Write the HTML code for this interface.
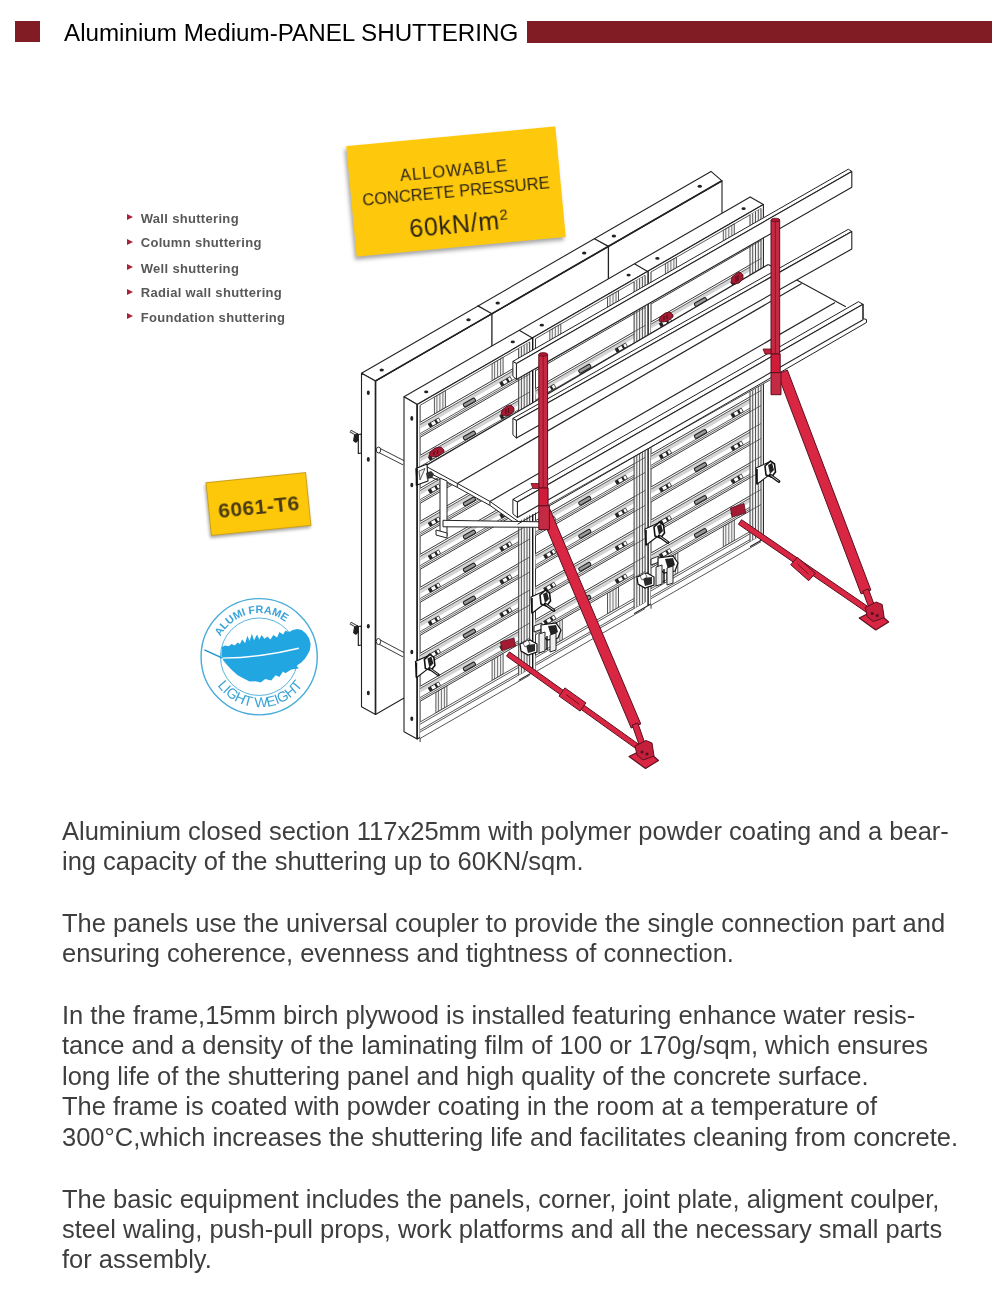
<!DOCTYPE html>
<html><head><meta charset="utf-8">
<style>
html,body{margin:0;padding:0;background:#fff;}
body{width:1007px;height:1289px;position:relative;overflow:hidden;font-family:"Liberation Sans",sans-serif;}
.abs{position:absolute;will-change:transform;}
#sq{left:15px;top:21px;width:25px;height:21px;background:#821c24;}
#bar{left:527px;top:21px;width:465px;height:21.5px;background:#821c24;}
#title{left:64px;top:18px;font-size:24.2px;line-height:30px;color:#000;white-space:nowrap;}
#list{left:126.5px;top:0;font-size:13px;letter-spacing:0.32px;font-weight:bold;color:#585858;}
#list div{position:absolute;left:13.7px;white-space:nowrap;}
#list span.tri{position:absolute;left:-13.7px;width:0;height:0;border-left:6.4px solid #a8223a;border-top:3.4px solid transparent;border-bottom:3.4px solid transparent;}
#body{left:62px;top:0;font-size:25.5px;color:#3e3e3e;white-space:nowrap;}
#body div{position:absolute;left:0;}

#ybox{left:350.55px;top:136.3px;width:210px;height:111px;background:#fec80c;transform:rotate(-5.4deg);box-shadow:-2px 3px 4px rgba(0,0,0,0.35);color:#2b2414;text-align:center;}
#ybox div{position:absolute;left:0;width:210px;white-space:nowrap;}
#badge{left:208.4px;top:477px;width:101.2px;height:54.4px;background:#fdc80a;transform:rotate(-5.8deg);box-shadow:-1px 2px 3px rgba(0,0,0,0.35);border:1px solid #c9a01a;box-sizing:border-box;color:#3f3418;font-weight:bold;text-align:center;}
</style></head><body>
<div class="abs" id="sq"></div>
<div class="abs" id="title">Aluminium Medium-PANEL SHUTTERING</div>
<div class="abs" id="bar"></div>

<svg class="abs" style="left:0;top:0" width="1007" height="800" viewBox="0 0 1007 800">
<polygon points="375.5,380.9 722,180.8 722,514.3 375.5,714.4" fill="#fff" stroke="#222" stroke-width="1.1" stroke-linejoin="round" />
<polygon points="361.5,373.2 711,171.4 722,180.8 375.5,380.9" fill="#fff" stroke="#222" stroke-width="1.1" stroke-linejoin="round" />
<polygon points="361.5,373.2 375.5,380.9 375.5,714.4 361.5,706.7" fill="#fff" stroke="#222" stroke-width="1.1" stroke-linejoin="round" />
<line x1="375.5" y1="380.9" x2="375.5" y2="714.4" stroke="#222" stroke-width="1.6" />
<line x1="375.5" y1="380.9" x2="722" y2="180.8" stroke="#222" stroke-width="1.6" />
<polyline points="478,305.9 491.9,313.7 491.9,433.7" fill="none" stroke="#222" stroke-width="1.3" stroke-linejoin="round" stroke-linecap="round" />
<polyline points="594.5,238.7 608.4,246.4 608.4,366.4" fill="none" stroke="#222" stroke-width="1.3" stroke-linejoin="round" stroke-linecap="round" />
<ellipse cx="381.7" cy="369.9" rx="2.2" ry="1.5" fill="#222" />
<ellipse cx="468.5" cy="319.8" rx="2.2" ry="1.5" fill="#222" />
<ellipse cx="497.7" cy="302.9" rx="2.2" ry="1.5" fill="#222" />
<ellipse cx="584.2" cy="253" rx="2.2" ry="1.5" fill="#222" />
<ellipse cx="613.9" cy="235.9" rx="2.2" ry="1.5" fill="#222" />
<ellipse cx="699.8" cy="186.3" rx="2.2" ry="1.5" fill="#222" />
<ellipse cx="368.3" cy="392.7" rx="1.5" ry="2.3" fill="#222" />
<ellipse cx="368.3" cy="459.4" rx="1.5" ry="2.3" fill="#222" />
<ellipse cx="368.3" cy="626.3" rx="1.5" ry="2.3" fill="#222" />
<ellipse cx="368.3" cy="693" rx="1.5" ry="2.3" fill="#222" />
<line x1="378.5" y1="450" x2="404" y2="463" stroke="#333" stroke-width="5.2" />
<line x1="378.5" y1="450" x2="404" y2="463" stroke="#fff" stroke-width="3.4" />
<ellipse cx="378.5" cy="450" rx="2.2" ry="3" fill="#fff" stroke="#333" stroke-width="1"/>
<line x1="378.5" y1="641.5" x2="404" y2="655" stroke="#333" stroke-width="5.2" />
<line x1="378.5" y1="641.5" x2="404" y2="655" stroke="#fff" stroke-width="3.4" />
<ellipse cx="378.5" cy="641.5" rx="2.2" ry="3" fill="#fff" stroke="#333" stroke-width="1"/>
<line x1="350.3" y1="431" x2="357.5" y2="435" stroke="#333" stroke-width="3" />
<line x1="350.8" y1="431.3" x2="357" y2="434.8" stroke="#eee" stroke-width="1.2" />
<polygon points="358.3,434.5 361.3,434 361.3,453 358.3,453.5" fill="#fff" stroke="#111" stroke-width="1.1" stroke-linejoin="round" />
<path d="M354,435 L358,433 L359,440 L356,443 L353,441 Z" fill="#1e1e1e"/>
<line x1="350.3" y1="623" x2="357.5" y2="627" stroke="#333" stroke-width="3" />
<line x1="350.8" y1="623.3" x2="357" y2="626.8" stroke="#eee" stroke-width="1.2" />
<polygon points="358.3,626.5 361.3,626 361.3,645 358.3,645.5" fill="#fff" stroke="#111" stroke-width="1.1" stroke-linejoin="round" />
<path d="M354,627 L358,625 L359,632 L356,635 L353,633 Z" fill="#1e1e1e"/>
<polygon points="404,396.8 750.2,196.9 763.4,204.6 417.2,404.5" fill="#fff" stroke="#222" stroke-width="1.1" stroke-linejoin="round" />
<polygon points="404,396.8 417.2,404.5 417.2,738.9 404,731.7" fill="#fff" stroke="#222" stroke-width="1.1" stroke-linejoin="round" />
<polygon points="417.2,404.5 763.4,204.6 763.4,539 417.2,738.9" fill="#fff" stroke="#222" stroke-width="1.1" stroke-linejoin="round" />
<line x1="417.2" y1="404.5" x2="417.2" y2="738.9" stroke="#222" stroke-width="1.5" />
<line x1="519.2" y1="330.3" x2="532.4" y2="338" stroke="#222" stroke-width="1.2" />
<line x1="634.4" y1="263.8" x2="647.6" y2="271.5" stroke="#222" stroke-width="1.2" />
<ellipse cx="426.2" cy="391.9" rx="2.1" ry="1.4" fill="#222" />
<ellipse cx="512.8" cy="341.9" rx="2.1" ry="1.4" fill="#222" />
<ellipse cx="541.8" cy="325.2" rx="2.1" ry="1.4" fill="#222" />
<ellipse cx="628.6" cy="275.1" rx="2.1" ry="1.4" fill="#222" />
<ellipse cx="657.4" cy="258.4" rx="2.1" ry="1.4" fill="#222" />
<ellipse cx="743.6" cy="208.7" rx="2.1" ry="1.4" fill="#222" />
<ellipse cx="411.8" cy="418.4" rx="1.5" ry="2.3" fill="#222" />
<ellipse cx="411.8" cy="485" rx="1.5" ry="2.3" fill="#222" />
<ellipse cx="411.8" cy="652" rx="1.5" ry="2.3" fill="#222" />
<ellipse cx="411.8" cy="718.7" rx="1.5" ry="2.3" fill="#222" />
<line x1="420.1" y1="405.3" x2="420.1" y2="742" stroke="#3a3a3a" stroke-width="1.0" />
<line x1="420.1" y1="405.3" x2="529.7" y2="342" stroke="#3a3a3a" stroke-width="0.85" />
<polygon points="434.4,397.1 445.4,390.7 445.4,407.7 434.4,414.1" fill="#f4f4f4" stroke="#3a3a3a" stroke-width="0.85" stroke-linejoin="round" />
<line x1="436.9" y1="395.6" x2="436.9" y2="412.6" stroke="#3a3a3a" stroke-width="0.7" />
<line x1="439.9" y1="393.9" x2="439.9" y2="410.9" stroke="#3a3a3a" stroke-width="0.7" />
<line x1="442.9" y1="392.2" x2="442.9" y2="409.2" stroke="#3a3a3a" stroke-width="0.7" />
<polygon points="492.1,363.8 503.1,357.4 503.1,374.4 492.1,380.8" fill="#f4f4f4" stroke="#3a3a3a" stroke-width="0.85" stroke-linejoin="round" />
<line x1="494.6" y1="362.3" x2="494.6" y2="379.3" stroke="#3a3a3a" stroke-width="0.7" />
<line x1="497.6" y1="360.6" x2="497.6" y2="377.6" stroke="#3a3a3a" stroke-width="0.7" />
<line x1="500.6" y1="358.9" x2="500.6" y2="375.9" stroke="#3a3a3a" stroke-width="0.7" />
<polygon points="435.9,692.2 446.9,685.9 446.9,706.6 435.9,712.9" fill="#f4f4f4" stroke="#3a3a3a" stroke-width="0.85" stroke-linejoin="round" />
<line x1="438.4" y1="690.8" x2="438.4" y2="711.5" stroke="#3a3a3a" stroke-width="0.7" />
<line x1="441.4" y1="689" x2="441.4" y2="709.7" stroke="#3a3a3a" stroke-width="0.7" />
<line x1="444.4" y1="687.3" x2="444.4" y2="708" stroke="#3a3a3a" stroke-width="0.7" />
<polygon points="492.1,659.8 503.1,653.4 503.1,674.1 492.1,680.5" fill="#f4f4f4" stroke="#3a3a3a" stroke-width="0.85" stroke-linejoin="round" />
<line x1="494.6" y1="658.3" x2="494.6" y2="679" stroke="#3a3a3a" stroke-width="0.7" />
<line x1="497.6" y1="656.6" x2="497.6" y2="677.3" stroke="#3a3a3a" stroke-width="0.7" />
<line x1="500.6" y1="654.9" x2="500.6" y2="675.6" stroke="#3a3a3a" stroke-width="0.7" />
<polygon points="420.1,422.3 518.7,365.4 518.7,380.4 420.1,437.3" fill="#fff" stroke="none" stroke-width="0" stroke-linejoin="round" />
<polygon points="420.1,424.5 518.7,367.6 518.7,371.8 420.1,428.7" fill="#d4d4d4" stroke="none" stroke-width="0" stroke-linejoin="round" />
<line x1="420.1" y1="422.3" x2="529.7" y2="359" stroke="#3a3a3a" stroke-width="1.0" />
<line x1="420.1" y1="424.5" x2="529.7" y2="361.2" stroke="#3a3a3a" stroke-width="0.8" />
<line x1="420.1" y1="433.6" x2="529.7" y2="370.3" stroke="#3a3a3a" stroke-width="0.8" />
<line x1="420.1" y1="435.5" x2="529.7" y2="372.2" stroke="#3a3a3a" stroke-width="0.8" />
<line x1="420.1" y1="437.3" x2="529.7" y2="374" stroke="#3a3a3a" stroke-width="1.0" />
<g transform="rotate(-30 434.4 422.7)"><rect x="428.4" y="420.7" width="12" height="4" fill="#fff" stroke="#333" stroke-width="0.8"/><rect x="428.4" y="420.7" width="3" height="4" fill="#222"/><rect x="435.4" y="420.7" width="2.2" height="4" fill="#222"/></g>
<rect x="462.9" y="400.7" width="13" height="3.6" rx="1.2" fill="#9a9a9a" stroke="#222" stroke-width="1.1" transform="rotate(-30 469.4 402.5)"/>
<g transform="rotate(-30 505.9 381.4)"><rect x="499.9" y="379.4" width="12" height="4" fill="#fff" stroke="#333" stroke-width="0.8"/><rect x="499.9" y="379.4" width="3" height="4" fill="#222"/><rect x="506.9" y="379.4" width="2.2" height="4" fill="#222"/></g>
<polygon points="420.1,455.3 518.7,398.4 518.7,413.4 420.1,470.3" fill="#fff" stroke="none" stroke-width="0" stroke-linejoin="round" />
<polygon points="420.1,457.5 518.7,400.6 518.7,404.8 420.1,461.7" fill="#d4d4d4" stroke="none" stroke-width="0" stroke-linejoin="round" />
<line x1="420.1" y1="455.3" x2="529.7" y2="392" stroke="#3a3a3a" stroke-width="1.0" />
<line x1="420.1" y1="457.5" x2="529.7" y2="394.2" stroke="#3a3a3a" stroke-width="0.8" />
<line x1="420.1" y1="466.6" x2="529.7" y2="403.3" stroke="#3a3a3a" stroke-width="0.8" />
<line x1="420.1" y1="468.5" x2="529.7" y2="405.2" stroke="#3a3a3a" stroke-width="0.8" />
<line x1="420.1" y1="470.3" x2="529.7" y2="407" stroke="#3a3a3a" stroke-width="1.0" />
<g transform="rotate(-30 434.4 455.7)"><rect x="428.4" y="453.7" width="12" height="4" fill="#fff" stroke="#333" stroke-width="0.8"/><rect x="428.4" y="453.7" width="3" height="4" fill="#222"/><rect x="435.4" y="453.7" width="2.2" height="4" fill="#222"/></g>
<rect x="462.9" y="433.7" width="13" height="3.6" rx="1.2" fill="#9a9a9a" stroke="#222" stroke-width="1.1" transform="rotate(-30 469.4 435.5)"/>
<g transform="rotate(-30 505.9 414.4)"><rect x="499.9" y="412.4" width="12" height="4" fill="#fff" stroke="#333" stroke-width="0.8"/><rect x="499.9" y="412.4" width="3" height="4" fill="#222"/><rect x="506.9" y="412.4" width="2.2" height="4" fill="#222"/></g>
<polygon points="420.1,488.3 518.7,431.4 518.7,446.4 420.1,503.3" fill="#fff" stroke="none" stroke-width="0" stroke-linejoin="round" />
<polygon points="420.1,490.5 518.7,433.6 518.7,437.8 420.1,494.7" fill="#d4d4d4" stroke="none" stroke-width="0" stroke-linejoin="round" />
<line x1="420.1" y1="488.3" x2="529.7" y2="425" stroke="#3a3a3a" stroke-width="1.0" />
<line x1="420.1" y1="490.5" x2="529.7" y2="427.2" stroke="#3a3a3a" stroke-width="0.8" />
<line x1="420.1" y1="499.6" x2="529.7" y2="436.3" stroke="#3a3a3a" stroke-width="0.8" />
<line x1="420.1" y1="501.5" x2="529.7" y2="438.2" stroke="#3a3a3a" stroke-width="0.8" />
<line x1="420.1" y1="503.3" x2="529.7" y2="440" stroke="#3a3a3a" stroke-width="1.0" />
<g transform="rotate(-30 434.4 488.7)"><rect x="428.4" y="486.7" width="12" height="4" fill="#fff" stroke="#333" stroke-width="0.8"/><rect x="428.4" y="486.7" width="3" height="4" fill="#222"/><rect x="435.4" y="486.7" width="2.2" height="4" fill="#222"/></g>
<rect x="462.9" y="466.7" width="13" height="3.6" rx="1.2" fill="#9a9a9a" stroke="#222" stroke-width="1.1" transform="rotate(-30 469.4 468.5)"/>
<g transform="rotate(-30 505.9 447.4)"><rect x="499.9" y="445.4" width="12" height="4" fill="#fff" stroke="#333" stroke-width="0.8"/><rect x="499.9" y="445.4" width="3" height="4" fill="#222"/><rect x="506.9" y="445.4" width="2.2" height="4" fill="#222"/></g>
<polygon points="420.1,521.3 518.7,464.4 518.7,479.4 420.1,536.3" fill="#fff" stroke="none" stroke-width="0" stroke-linejoin="round" />
<polygon points="420.1,523.5 518.7,466.6 518.7,470.8 420.1,527.7" fill="#d4d4d4" stroke="none" stroke-width="0" stroke-linejoin="round" />
<line x1="420.1" y1="521.3" x2="529.7" y2="458" stroke="#3a3a3a" stroke-width="1.0" />
<line x1="420.1" y1="523.5" x2="529.7" y2="460.2" stroke="#3a3a3a" stroke-width="0.8" />
<line x1="420.1" y1="532.6" x2="529.7" y2="469.3" stroke="#3a3a3a" stroke-width="0.8" />
<line x1="420.1" y1="534.5" x2="529.7" y2="471.2" stroke="#3a3a3a" stroke-width="0.8" />
<line x1="420.1" y1="536.3" x2="529.7" y2="473" stroke="#3a3a3a" stroke-width="1.0" />
<g transform="rotate(-30 434.4 521.7)"><rect x="428.4" y="519.7" width="12" height="4" fill="#fff" stroke="#333" stroke-width="0.8"/><rect x="428.4" y="519.7" width="3" height="4" fill="#222"/><rect x="435.4" y="519.7" width="2.2" height="4" fill="#222"/></g>
<rect x="462.9" y="499.7" width="13" height="3.6" rx="1.2" fill="#9a9a9a" stroke="#222" stroke-width="1.1" transform="rotate(-30 469.4 501.5)"/>
<g transform="rotate(-30 505.9 480.4)"><rect x="499.9" y="478.4" width="12" height="4" fill="#fff" stroke="#333" stroke-width="0.8"/><rect x="499.9" y="478.4" width="3" height="4" fill="#222"/><rect x="506.9" y="478.4" width="2.2" height="4" fill="#222"/></g>
<polygon points="420.1,554.3 518.7,497.4 518.7,512.4 420.1,569.3" fill="#fff" stroke="none" stroke-width="0" stroke-linejoin="round" />
<polygon points="420.1,556.5 518.7,499.6 518.7,503.8 420.1,560.7" fill="#d4d4d4" stroke="none" stroke-width="0" stroke-linejoin="round" />
<line x1="420.1" y1="554.3" x2="529.7" y2="491" stroke="#3a3a3a" stroke-width="1.0" />
<line x1="420.1" y1="556.5" x2="529.7" y2="493.2" stroke="#3a3a3a" stroke-width="0.8" />
<line x1="420.1" y1="565.6" x2="529.7" y2="502.3" stroke="#3a3a3a" stroke-width="0.8" />
<line x1="420.1" y1="567.5" x2="529.7" y2="504.2" stroke="#3a3a3a" stroke-width="0.8" />
<line x1="420.1" y1="569.3" x2="529.7" y2="506" stroke="#3a3a3a" stroke-width="1.0" />
<g transform="rotate(-30 434.4 554.7)"><rect x="428.4" y="552.7" width="12" height="4" fill="#fff" stroke="#333" stroke-width="0.8"/><rect x="428.4" y="552.7" width="3" height="4" fill="#222"/><rect x="435.4" y="552.7" width="2.2" height="4" fill="#222"/></g>
<rect x="462.9" y="532.7" width="13" height="3.6" rx="1.2" fill="#9a9a9a" stroke="#222" stroke-width="1.1" transform="rotate(-30 469.4 534.5)"/>
<g transform="rotate(-30 505.9 513.4)"><rect x="499.9" y="511.4" width="12" height="4" fill="#fff" stroke="#333" stroke-width="0.8"/><rect x="499.9" y="511.4" width="3" height="4" fill="#222"/><rect x="506.9" y="511.4" width="2.2" height="4" fill="#222"/></g>
<polygon points="420.1,587.3 518.7,530.4 518.7,545.4 420.1,602.3" fill="#fff" stroke="none" stroke-width="0" stroke-linejoin="round" />
<polygon points="420.1,589.5 518.7,532.6 518.7,536.8 420.1,593.7" fill="#d4d4d4" stroke="none" stroke-width="0" stroke-linejoin="round" />
<line x1="420.1" y1="587.3" x2="529.7" y2="524" stroke="#3a3a3a" stroke-width="1.0" />
<line x1="420.1" y1="589.5" x2="529.7" y2="526.2" stroke="#3a3a3a" stroke-width="0.8" />
<line x1="420.1" y1="598.6" x2="529.7" y2="535.3" stroke="#3a3a3a" stroke-width="0.8" />
<line x1="420.1" y1="600.5" x2="529.7" y2="537.2" stroke="#3a3a3a" stroke-width="0.8" />
<line x1="420.1" y1="602.3" x2="529.7" y2="539" stroke="#3a3a3a" stroke-width="1.0" />
<g transform="rotate(-30 434.4 587.7)"><rect x="428.4" y="585.7" width="12" height="4" fill="#fff" stroke="#333" stroke-width="0.8"/><rect x="428.4" y="585.7" width="3" height="4" fill="#222"/><rect x="435.4" y="585.7" width="2.2" height="4" fill="#222"/></g>
<rect x="462.9" y="565.7" width="13" height="3.6" rx="1.2" fill="#9a9a9a" stroke="#222" stroke-width="1.1" transform="rotate(-30 469.4 567.5)"/>
<g transform="rotate(-30 505.9 546.4)"><rect x="499.9" y="544.4" width="12" height="4" fill="#fff" stroke="#333" stroke-width="0.8"/><rect x="499.9" y="544.4" width="3" height="4" fill="#222"/><rect x="506.9" y="544.4" width="2.2" height="4" fill="#222"/></g>
<polygon points="420.1,620.3 518.7,563.4 518.7,578.4 420.1,635.3" fill="#fff" stroke="none" stroke-width="0" stroke-linejoin="round" />
<polygon points="420.1,622.5 518.7,565.6 518.7,569.8 420.1,626.7" fill="#d4d4d4" stroke="none" stroke-width="0" stroke-linejoin="round" />
<line x1="420.1" y1="620.3" x2="529.7" y2="557" stroke="#3a3a3a" stroke-width="1.0" />
<line x1="420.1" y1="622.5" x2="529.7" y2="559.2" stroke="#3a3a3a" stroke-width="0.8" />
<line x1="420.1" y1="631.6" x2="529.7" y2="568.3" stroke="#3a3a3a" stroke-width="0.8" />
<line x1="420.1" y1="633.5" x2="529.7" y2="570.2" stroke="#3a3a3a" stroke-width="0.8" />
<line x1="420.1" y1="635.3" x2="529.7" y2="572" stroke="#3a3a3a" stroke-width="1.0" />
<g transform="rotate(-30 434.4 620.7)"><rect x="428.4" y="618.7" width="12" height="4" fill="#fff" stroke="#333" stroke-width="0.8"/><rect x="428.4" y="618.7" width="3" height="4" fill="#222"/><rect x="435.4" y="618.7" width="2.2" height="4" fill="#222"/></g>
<rect x="462.9" y="598.7" width="13" height="3.6" rx="1.2" fill="#9a9a9a" stroke="#222" stroke-width="1.1" transform="rotate(-30 469.4 600.5)"/>
<g transform="rotate(-30 505.9 579.4)"><rect x="499.9" y="577.4" width="12" height="4" fill="#fff" stroke="#333" stroke-width="0.8"/><rect x="499.9" y="577.4" width="3" height="4" fill="#222"/><rect x="506.9" y="577.4" width="2.2" height="4" fill="#222"/></g>
<polygon points="420.1,653.3 518.7,596.4 518.7,611.4 420.1,668.3" fill="#fff" stroke="none" stroke-width="0" stroke-linejoin="round" />
<polygon points="420.1,655.5 518.7,598.6 518.7,602.8 420.1,659.7" fill="#d4d4d4" stroke="none" stroke-width="0" stroke-linejoin="round" />
<line x1="420.1" y1="653.3" x2="529.7" y2="590" stroke="#3a3a3a" stroke-width="1.0" />
<line x1="420.1" y1="655.5" x2="529.7" y2="592.2" stroke="#3a3a3a" stroke-width="0.8" />
<line x1="420.1" y1="664.6" x2="529.7" y2="601.3" stroke="#3a3a3a" stroke-width="0.8" />
<line x1="420.1" y1="666.5" x2="529.7" y2="603.2" stroke="#3a3a3a" stroke-width="0.8" />
<line x1="420.1" y1="668.3" x2="529.7" y2="605" stroke="#3a3a3a" stroke-width="1.0" />
<g transform="rotate(-30 434.4 653.7)"><rect x="428.4" y="651.7" width="12" height="4" fill="#fff" stroke="#333" stroke-width="0.8"/><rect x="428.4" y="651.7" width="3" height="4" fill="#222"/><rect x="435.4" y="651.7" width="2.2" height="4" fill="#222"/></g>
<rect x="462.9" y="631.7" width="13" height="3.6" rx="1.2" fill="#9a9a9a" stroke="#222" stroke-width="1.1" transform="rotate(-30 469.4 633.5)"/>
<g transform="rotate(-30 505.9 612.4)"><rect x="499.9" y="610.4" width="12" height="4" fill="#fff" stroke="#333" stroke-width="0.8"/><rect x="499.9" y="610.4" width="3" height="4" fill="#222"/><rect x="506.9" y="610.4" width="2.2" height="4" fill="#222"/></g>
<polygon points="420.1,686.3 518.7,629.4 518.7,644.4 420.1,701.3" fill="#fff" stroke="none" stroke-width="0" stroke-linejoin="round" />
<polygon points="420.1,688.5 518.7,631.6 518.7,635.8 420.1,692.7" fill="#d4d4d4" stroke="none" stroke-width="0" stroke-linejoin="round" />
<line x1="420.1" y1="686.3" x2="529.7" y2="623" stroke="#3a3a3a" stroke-width="1.0" />
<line x1="420.1" y1="688.5" x2="529.7" y2="625.2" stroke="#3a3a3a" stroke-width="0.8" />
<line x1="420.1" y1="697.6" x2="529.7" y2="634.3" stroke="#3a3a3a" stroke-width="0.8" />
<line x1="420.1" y1="699.5" x2="529.7" y2="636.2" stroke="#3a3a3a" stroke-width="0.8" />
<line x1="420.1" y1="701.3" x2="529.7" y2="638" stroke="#3a3a3a" stroke-width="1.0" />
<g transform="rotate(-30 434.4 686.7)"><rect x="428.4" y="684.7" width="12" height="4" fill="#fff" stroke="#333" stroke-width="0.8"/><rect x="428.4" y="684.7" width="3" height="4" fill="#222"/><rect x="435.4" y="684.7" width="2.2" height="4" fill="#222"/></g>
<rect x="462.9" y="664.7" width="13" height="3.6" rx="1.2" fill="#9a9a9a" stroke="#222" stroke-width="1.1" transform="rotate(-30 469.4 666.5)"/>
<g transform="rotate(-30 505.9 645.4)"><rect x="499.9" y="643.4" width="12" height="4" fill="#fff" stroke="#333" stroke-width="0.8"/><rect x="499.9" y="643.4" width="3" height="4" fill="#222"/><rect x="506.9" y="643.4" width="2.2" height="4" fill="#222"/></g>
<polygon points="420.1,722 518.7,665.1 518.7,681.6 420.1,738.5" fill="#fff" stroke="none" stroke-width="0" stroke-linejoin="round" />
<line x1="420.1" y1="722" x2="529.7" y2="658.7" stroke="#3a3a3a" stroke-width="0.85" />
<line x1="420.1" y1="724.2" x2="529.7" y2="660.9" stroke="#3a3a3a" stroke-width="0.85" />
<line x1="420.1" y1="730" x2="529.7" y2="666.7" stroke="#3a3a3a" stroke-width="0.85" />
<line x1="420.1" y1="732" x2="529.7" y2="668.7" stroke="#3a3a3a" stroke-width="0.85" />
<line x1="420.1" y1="738.5" x2="529.7" y2="675.2" stroke="#3a3a3a" stroke-width="0.85" />
<polygon points="518.7,348.4 529.7,342 529.7,668.7 518.7,675.1" fill="#f2f2f2" stroke="none" stroke-width="0" stroke-linejoin="round" />
<line x1="518.7" y1="348.4" x2="518.7" y2="675.1" stroke="#3a3a3a" stroke-width="1.0" />
<line x1="521.4" y1="346.8" x2="521.4" y2="673.5" stroke="#3a3a3a" stroke-width="0.85" />
<line x1="524.2" y1="345.2" x2="524.2" y2="671.9" stroke="#3a3a3a" stroke-width="0.85" />
<line x1="527" y1="343.6" x2="527" y2="670.3" stroke="#3a3a3a" stroke-width="0.85" />
<line x1="529.7" y1="342" x2="529.7" y2="668.7" stroke="#3a3a3a" stroke-width="1.0" />
<line x1="518.7" y1="365.4" x2="529.7" y2="359" stroke="#3a3a3a" stroke-width="0.7" />
<line x1="518.7" y1="380.4" x2="529.7" y2="374" stroke="#3a3a3a" stroke-width="0.7" />
<line x1="518.7" y1="398.4" x2="529.7" y2="392" stroke="#3a3a3a" stroke-width="0.7" />
<line x1="518.7" y1="413.4" x2="529.7" y2="407" stroke="#3a3a3a" stroke-width="0.7" />
<line x1="518.7" y1="431.4" x2="529.7" y2="425" stroke="#3a3a3a" stroke-width="0.7" />
<line x1="518.7" y1="446.4" x2="529.7" y2="440" stroke="#3a3a3a" stroke-width="0.7" />
<line x1="518.7" y1="464.4" x2="529.7" y2="458" stroke="#3a3a3a" stroke-width="0.7" />
<line x1="518.7" y1="479.4" x2="529.7" y2="473" stroke="#3a3a3a" stroke-width="0.7" />
<line x1="518.7" y1="497.4" x2="529.7" y2="491" stroke="#3a3a3a" stroke-width="0.7" />
<line x1="518.7" y1="512.4" x2="529.7" y2="506" stroke="#3a3a3a" stroke-width="0.7" />
<line x1="518.7" y1="530.4" x2="529.7" y2="524" stroke="#3a3a3a" stroke-width="0.7" />
<line x1="518.7" y1="545.4" x2="529.7" y2="539" stroke="#3a3a3a" stroke-width="0.7" />
<line x1="518.7" y1="563.4" x2="529.7" y2="557" stroke="#3a3a3a" stroke-width="0.7" />
<line x1="518.7" y1="578.4" x2="529.7" y2="572" stroke="#3a3a3a" stroke-width="0.7" />
<line x1="518.7" y1="596.4" x2="529.7" y2="590" stroke="#3a3a3a" stroke-width="0.7" />
<line x1="518.7" y1="611.4" x2="529.7" y2="605" stroke="#3a3a3a" stroke-width="0.7" />
<line x1="518.7" y1="629.4" x2="529.7" y2="623" stroke="#3a3a3a" stroke-width="0.7" />
<line x1="518.7" y1="644.4" x2="529.7" y2="638" stroke="#3a3a3a" stroke-width="0.7" />
<line x1="532.7" y1="337.8" x2="532.7" y2="672.2" stroke="#111" stroke-width="1.4" />
<line x1="535.5" y1="338.7" x2="535.5" y2="675.4" stroke="#3a3a3a" stroke-width="1.0" />
<line x1="535.5" y1="338.7" x2="645.1" y2="275.4" stroke="#3a3a3a" stroke-width="0.85" />
<polygon points="549.8,330.4 560.8,324.1 560.8,341.1 549.8,347.4" fill="#f4f4f4" stroke="#3a3a3a" stroke-width="0.85" stroke-linejoin="round" />
<line x1="552.3" y1="329" x2="552.3" y2="346" stroke="#3a3a3a" stroke-width="0.7" />
<line x1="555.3" y1="327.3" x2="555.3" y2="344.3" stroke="#3a3a3a" stroke-width="0.7" />
<line x1="558.3" y1="325.5" x2="558.3" y2="342.5" stroke="#3a3a3a" stroke-width="0.7" />
<polygon points="607.5,297.1 618.5,290.8 618.5,307.8 607.5,314.1" fill="#f4f4f4" stroke="#3a3a3a" stroke-width="0.85" stroke-linejoin="round" />
<line x1="610" y1="295.7" x2="610" y2="312.7" stroke="#3a3a3a" stroke-width="0.7" />
<line x1="613" y1="294" x2="613" y2="311" stroke="#3a3a3a" stroke-width="0.7" />
<line x1="616" y1="292.2" x2="616" y2="309.2" stroke="#3a3a3a" stroke-width="0.7" />
<polygon points="551.3,625.6 562.3,619.2 562.3,639.9 551.3,646.3" fill="#f4f4f4" stroke="#3a3a3a" stroke-width="0.85" stroke-linejoin="round" />
<line x1="553.8" y1="624.1" x2="553.8" y2="644.8" stroke="#3a3a3a" stroke-width="0.7" />
<line x1="556.8" y1="622.4" x2="556.8" y2="643.1" stroke="#3a3a3a" stroke-width="0.7" />
<line x1="559.8" y1="620.7" x2="559.8" y2="641.4" stroke="#3a3a3a" stroke-width="0.7" />
<polygon points="607.5,593.1 618.5,586.8 618.5,607.5 607.5,613.8" fill="#f4f4f4" stroke="#3a3a3a" stroke-width="0.85" stroke-linejoin="round" />
<line x1="610" y1="591.7" x2="610" y2="612.4" stroke="#3a3a3a" stroke-width="0.7" />
<line x1="613" y1="590" x2="613" y2="610.7" stroke="#3a3a3a" stroke-width="0.7" />
<line x1="616" y1="588.2" x2="616" y2="608.9" stroke="#3a3a3a" stroke-width="0.7" />
<polygon points="535.5,355.7 634.1,298.8 634.1,313.8 535.5,370.7" fill="#fff" stroke="none" stroke-width="0" stroke-linejoin="round" />
<polygon points="535.5,357.9 634.1,301 634.1,305.2 535.5,362.1" fill="#d4d4d4" stroke="none" stroke-width="0" stroke-linejoin="round" />
<line x1="535.5" y1="355.7" x2="645.1" y2="292.4" stroke="#3a3a3a" stroke-width="1.0" />
<line x1="535.5" y1="357.9" x2="645.1" y2="294.6" stroke="#3a3a3a" stroke-width="0.8" />
<line x1="535.5" y1="367" x2="645.1" y2="303.7" stroke="#3a3a3a" stroke-width="0.8" />
<line x1="535.5" y1="368.9" x2="645.1" y2="305.6" stroke="#3a3a3a" stroke-width="0.8" />
<line x1="535.5" y1="370.7" x2="645.1" y2="307.4" stroke="#3a3a3a" stroke-width="1.0" />
<g transform="rotate(-30 549.8 356)"><rect x="543.8" y="354" width="12" height="4" fill="#fff" stroke="#333" stroke-width="0.8"/><rect x="543.8" y="354" width="3" height="4" fill="#222"/><rect x="550.8" y="354" width="2.2" height="4" fill="#222"/></g>
<rect x="578.3" y="334" width="13" height="3.6" rx="1.2" fill="#9a9a9a" stroke="#222" stroke-width="1.1" transform="rotate(-30 584.8 335.8)"/>
<g transform="rotate(-30 621.3 314.8)"><rect x="615.3" y="312.8" width="12" height="4" fill="#fff" stroke="#333" stroke-width="0.8"/><rect x="615.3" y="312.8" width="3" height="4" fill="#222"/><rect x="622.3" y="312.8" width="2.2" height="4" fill="#222"/></g>
<polygon points="535.5,388.7 634.1,331.8 634.1,346.8 535.5,403.7" fill="#fff" stroke="none" stroke-width="0" stroke-linejoin="round" />
<polygon points="535.5,390.9 634.1,334 634.1,338.2 535.5,395.1" fill="#d4d4d4" stroke="none" stroke-width="0" stroke-linejoin="round" />
<line x1="535.5" y1="388.7" x2="645.1" y2="325.4" stroke="#3a3a3a" stroke-width="1.0" />
<line x1="535.5" y1="390.9" x2="645.1" y2="327.6" stroke="#3a3a3a" stroke-width="0.8" />
<line x1="535.5" y1="400" x2="645.1" y2="336.7" stroke="#3a3a3a" stroke-width="0.8" />
<line x1="535.5" y1="401.9" x2="645.1" y2="338.6" stroke="#3a3a3a" stroke-width="0.8" />
<line x1="535.5" y1="403.7" x2="645.1" y2="340.4" stroke="#3a3a3a" stroke-width="1.0" />
<g transform="rotate(-30 549.8 389)"><rect x="543.8" y="387" width="12" height="4" fill="#fff" stroke="#333" stroke-width="0.8"/><rect x="543.8" y="387" width="3" height="4" fill="#222"/><rect x="550.8" y="387" width="2.2" height="4" fill="#222"/></g>
<rect x="578.3" y="367" width="13" height="3.6" rx="1.2" fill="#9a9a9a" stroke="#222" stroke-width="1.1" transform="rotate(-30 584.8 368.8)"/>
<g transform="rotate(-30 621.3 347.8)"><rect x="615.3" y="345.8" width="12" height="4" fill="#fff" stroke="#333" stroke-width="0.8"/><rect x="615.3" y="345.8" width="3" height="4" fill="#222"/><rect x="622.3" y="345.8" width="2.2" height="4" fill="#222"/></g>
<polygon points="535.5,421.7 634.1,364.8 634.1,379.8 535.5,436.7" fill="#fff" stroke="none" stroke-width="0" stroke-linejoin="round" />
<polygon points="535.5,423.9 634.1,367 634.1,371.2 535.5,428.1" fill="#d4d4d4" stroke="none" stroke-width="0" stroke-linejoin="round" />
<line x1="535.5" y1="421.7" x2="645.1" y2="358.4" stroke="#3a3a3a" stroke-width="1.0" />
<line x1="535.5" y1="423.9" x2="645.1" y2="360.6" stroke="#3a3a3a" stroke-width="0.8" />
<line x1="535.5" y1="433" x2="645.1" y2="369.7" stroke="#3a3a3a" stroke-width="0.8" />
<line x1="535.5" y1="434.9" x2="645.1" y2="371.6" stroke="#3a3a3a" stroke-width="0.8" />
<line x1="535.5" y1="436.7" x2="645.1" y2="373.4" stroke="#3a3a3a" stroke-width="1.0" />
<g transform="rotate(-30 549.8 422)"><rect x="543.8" y="420" width="12" height="4" fill="#fff" stroke="#333" stroke-width="0.8"/><rect x="543.8" y="420" width="3" height="4" fill="#222"/><rect x="550.8" y="420" width="2.2" height="4" fill="#222"/></g>
<rect x="578.3" y="400" width="13" height="3.6" rx="1.2" fill="#9a9a9a" stroke="#222" stroke-width="1.1" transform="rotate(-30 584.8 401.8)"/>
<g transform="rotate(-30 621.3 380.8)"><rect x="615.3" y="378.8" width="12" height="4" fill="#fff" stroke="#333" stroke-width="0.8"/><rect x="615.3" y="378.8" width="3" height="4" fill="#222"/><rect x="622.3" y="378.8" width="2.2" height="4" fill="#222"/></g>
<polygon points="535.5,454.7 634.1,397.8 634.1,412.8 535.5,469.7" fill="#fff" stroke="none" stroke-width="0" stroke-linejoin="round" />
<polygon points="535.5,456.9 634.1,400 634.1,404.2 535.5,461.1" fill="#d4d4d4" stroke="none" stroke-width="0" stroke-linejoin="round" />
<line x1="535.5" y1="454.7" x2="645.1" y2="391.4" stroke="#3a3a3a" stroke-width="1.0" />
<line x1="535.5" y1="456.9" x2="645.1" y2="393.6" stroke="#3a3a3a" stroke-width="0.8" />
<line x1="535.5" y1="466" x2="645.1" y2="402.7" stroke="#3a3a3a" stroke-width="0.8" />
<line x1="535.5" y1="467.9" x2="645.1" y2="404.6" stroke="#3a3a3a" stroke-width="0.8" />
<line x1="535.5" y1="469.7" x2="645.1" y2="406.4" stroke="#3a3a3a" stroke-width="1.0" />
<g transform="rotate(-30 549.8 455)"><rect x="543.8" y="453" width="12" height="4" fill="#fff" stroke="#333" stroke-width="0.8"/><rect x="543.8" y="453" width="3" height="4" fill="#222"/><rect x="550.8" y="453" width="2.2" height="4" fill="#222"/></g>
<rect x="578.3" y="433" width="13" height="3.6" rx="1.2" fill="#9a9a9a" stroke="#222" stroke-width="1.1" transform="rotate(-30 584.8 434.8)"/>
<g transform="rotate(-30 621.3 413.8)"><rect x="615.3" y="411.8" width="12" height="4" fill="#fff" stroke="#333" stroke-width="0.8"/><rect x="615.3" y="411.8" width="3" height="4" fill="#222"/><rect x="622.3" y="411.8" width="2.2" height="4" fill="#222"/></g>
<polygon points="535.5,487.7 634.1,430.8 634.1,445.8 535.5,502.7" fill="#fff" stroke="none" stroke-width="0" stroke-linejoin="round" />
<polygon points="535.5,489.9 634.1,433 634.1,437.2 535.5,494.1" fill="#d4d4d4" stroke="none" stroke-width="0" stroke-linejoin="round" />
<line x1="535.5" y1="487.7" x2="645.1" y2="424.4" stroke="#3a3a3a" stroke-width="1.0" />
<line x1="535.5" y1="489.9" x2="645.1" y2="426.6" stroke="#3a3a3a" stroke-width="0.8" />
<line x1="535.5" y1="499" x2="645.1" y2="435.7" stroke="#3a3a3a" stroke-width="0.8" />
<line x1="535.5" y1="500.9" x2="645.1" y2="437.6" stroke="#3a3a3a" stroke-width="0.8" />
<line x1="535.5" y1="502.7" x2="645.1" y2="439.4" stroke="#3a3a3a" stroke-width="1.0" />
<g transform="rotate(-30 549.8 488)"><rect x="543.8" y="486" width="12" height="4" fill="#fff" stroke="#333" stroke-width="0.8"/><rect x="543.8" y="486" width="3" height="4" fill="#222"/><rect x="550.8" y="486" width="2.2" height="4" fill="#222"/></g>
<rect x="578.3" y="466" width="13" height="3.6" rx="1.2" fill="#9a9a9a" stroke="#222" stroke-width="1.1" transform="rotate(-30 584.8 467.8)"/>
<g transform="rotate(-30 621.3 446.8)"><rect x="615.3" y="444.8" width="12" height="4" fill="#fff" stroke="#333" stroke-width="0.8"/><rect x="615.3" y="444.8" width="3" height="4" fill="#222"/><rect x="622.3" y="444.8" width="2.2" height="4" fill="#222"/></g>
<polygon points="535.5,520.7 634.1,463.8 634.1,478.8 535.5,535.7" fill="#fff" stroke="none" stroke-width="0" stroke-linejoin="round" />
<polygon points="535.5,522.9 634.1,466 634.1,470.2 535.5,527.1" fill="#d4d4d4" stroke="none" stroke-width="0" stroke-linejoin="round" />
<line x1="535.5" y1="520.7" x2="645.1" y2="457.4" stroke="#3a3a3a" stroke-width="1.0" />
<line x1="535.5" y1="522.9" x2="645.1" y2="459.6" stroke="#3a3a3a" stroke-width="0.8" />
<line x1="535.5" y1="532" x2="645.1" y2="468.7" stroke="#3a3a3a" stroke-width="0.8" />
<line x1="535.5" y1="533.9" x2="645.1" y2="470.6" stroke="#3a3a3a" stroke-width="0.8" />
<line x1="535.5" y1="535.7" x2="645.1" y2="472.4" stroke="#3a3a3a" stroke-width="1.0" />
<g transform="rotate(-30 549.8 521)"><rect x="543.8" y="519" width="12" height="4" fill="#fff" stroke="#333" stroke-width="0.8"/><rect x="543.8" y="519" width="3" height="4" fill="#222"/><rect x="550.8" y="519" width="2.2" height="4" fill="#222"/></g>
<rect x="578.3" y="499" width="13" height="3.6" rx="1.2" fill="#9a9a9a" stroke="#222" stroke-width="1.1" transform="rotate(-30 584.8 500.8)"/>
<g transform="rotate(-30 621.3 479.8)"><rect x="615.3" y="477.8" width="12" height="4" fill="#fff" stroke="#333" stroke-width="0.8"/><rect x="615.3" y="477.8" width="3" height="4" fill="#222"/><rect x="622.3" y="477.8" width="2.2" height="4" fill="#222"/></g>
<polygon points="535.5,553.7 634.1,496.8 634.1,511.8 535.5,568.7" fill="#fff" stroke="none" stroke-width="0" stroke-linejoin="round" />
<polygon points="535.5,555.9 634.1,499 634.1,503.2 535.5,560.1" fill="#d4d4d4" stroke="none" stroke-width="0" stroke-linejoin="round" />
<line x1="535.5" y1="553.7" x2="645.1" y2="490.4" stroke="#3a3a3a" stroke-width="1.0" />
<line x1="535.5" y1="555.9" x2="645.1" y2="492.6" stroke="#3a3a3a" stroke-width="0.8" />
<line x1="535.5" y1="565" x2="645.1" y2="501.7" stroke="#3a3a3a" stroke-width="0.8" />
<line x1="535.5" y1="566.9" x2="645.1" y2="503.6" stroke="#3a3a3a" stroke-width="0.8" />
<line x1="535.5" y1="568.7" x2="645.1" y2="505.4" stroke="#3a3a3a" stroke-width="1.0" />
<g transform="rotate(-30 549.8 554)"><rect x="543.8" y="552" width="12" height="4" fill="#fff" stroke="#333" stroke-width="0.8"/><rect x="543.8" y="552" width="3" height="4" fill="#222"/><rect x="550.8" y="552" width="2.2" height="4" fill="#222"/></g>
<rect x="578.3" y="532" width="13" height="3.6" rx="1.2" fill="#9a9a9a" stroke="#222" stroke-width="1.1" transform="rotate(-30 584.8 533.8)"/>
<g transform="rotate(-30 621.3 512.8)"><rect x="615.3" y="510.8" width="12" height="4" fill="#fff" stroke="#333" stroke-width="0.8"/><rect x="615.3" y="510.8" width="3" height="4" fill="#222"/><rect x="622.3" y="510.8" width="2.2" height="4" fill="#222"/></g>
<polygon points="535.5,586.7 634.1,529.8 634.1,544.8 535.5,601.7" fill="#fff" stroke="none" stroke-width="0" stroke-linejoin="round" />
<polygon points="535.5,588.9 634.1,532 634.1,536.2 535.5,593.1" fill="#d4d4d4" stroke="none" stroke-width="0" stroke-linejoin="round" />
<line x1="535.5" y1="586.7" x2="645.1" y2="523.4" stroke="#3a3a3a" stroke-width="1.0" />
<line x1="535.5" y1="588.9" x2="645.1" y2="525.6" stroke="#3a3a3a" stroke-width="0.8" />
<line x1="535.5" y1="598" x2="645.1" y2="534.7" stroke="#3a3a3a" stroke-width="0.8" />
<line x1="535.5" y1="599.9" x2="645.1" y2="536.6" stroke="#3a3a3a" stroke-width="0.8" />
<line x1="535.5" y1="601.7" x2="645.1" y2="538.4" stroke="#3a3a3a" stroke-width="1.0" />
<g transform="rotate(-30 549.8 587)"><rect x="543.8" y="585" width="12" height="4" fill="#fff" stroke="#333" stroke-width="0.8"/><rect x="543.8" y="585" width="3" height="4" fill="#222"/><rect x="550.8" y="585" width="2.2" height="4" fill="#222"/></g>
<rect x="578.3" y="565" width="13" height="3.6" rx="1.2" fill="#9a9a9a" stroke="#222" stroke-width="1.1" transform="rotate(-30 584.8 566.8)"/>
<g transform="rotate(-30 621.3 545.8)"><rect x="615.3" y="543.8" width="12" height="4" fill="#fff" stroke="#333" stroke-width="0.8"/><rect x="615.3" y="543.8" width="3" height="4" fill="#222"/><rect x="622.3" y="543.8" width="2.2" height="4" fill="#222"/></g>
<polygon points="535.5,619.7 634.1,562.8 634.1,577.8 535.5,634.7" fill="#fff" stroke="none" stroke-width="0" stroke-linejoin="round" />
<polygon points="535.5,621.9 634.1,565 634.1,569.2 535.5,626.1" fill="#d4d4d4" stroke="none" stroke-width="0" stroke-linejoin="round" />
<line x1="535.5" y1="619.7" x2="645.1" y2="556.4" stroke="#3a3a3a" stroke-width="1.0" />
<line x1="535.5" y1="621.9" x2="645.1" y2="558.6" stroke="#3a3a3a" stroke-width="0.8" />
<line x1="535.5" y1="631" x2="645.1" y2="567.7" stroke="#3a3a3a" stroke-width="0.8" />
<line x1="535.5" y1="632.9" x2="645.1" y2="569.6" stroke="#3a3a3a" stroke-width="0.8" />
<line x1="535.5" y1="634.7" x2="645.1" y2="571.4" stroke="#3a3a3a" stroke-width="1.0" />
<g transform="rotate(-30 549.8 620)"><rect x="543.8" y="618" width="12" height="4" fill="#fff" stroke="#333" stroke-width="0.8"/><rect x="543.8" y="618" width="3" height="4" fill="#222"/><rect x="550.8" y="618" width="2.2" height="4" fill="#222"/></g>
<rect x="578.3" y="598" width="13" height="3.6" rx="1.2" fill="#9a9a9a" stroke="#222" stroke-width="1.1" transform="rotate(-30 584.8 599.8)"/>
<g transform="rotate(-30 621.3 578.8)"><rect x="615.3" y="576.8" width="12" height="4" fill="#fff" stroke="#333" stroke-width="0.8"/><rect x="615.3" y="576.8" width="3" height="4" fill="#222"/><rect x="622.3" y="576.8" width="2.2" height="4" fill="#222"/></g>
<polygon points="535.5,655.4 634.1,598.5 634.1,615 535.5,671.9" fill="#fff" stroke="none" stroke-width="0" stroke-linejoin="round" />
<line x1="535.5" y1="655.4" x2="645.1" y2="592.1" stroke="#3a3a3a" stroke-width="0.85" />
<line x1="535.5" y1="657.6" x2="645.1" y2="594.3" stroke="#3a3a3a" stroke-width="0.85" />
<line x1="535.5" y1="663.4" x2="645.1" y2="600.1" stroke="#3a3a3a" stroke-width="0.85" />
<line x1="535.5" y1="665.4" x2="645.1" y2="602.1" stroke="#3a3a3a" stroke-width="0.85" />
<line x1="535.5" y1="671.9" x2="645.1" y2="608.6" stroke="#3a3a3a" stroke-width="0.85" />
<polygon points="634.1,281.8 645.1,275.4 645.1,602.1 634.1,608.5" fill="#f2f2f2" stroke="none" stroke-width="0" stroke-linejoin="round" />
<line x1="634.1" y1="281.8" x2="634.1" y2="608.5" stroke="#3a3a3a" stroke-width="1.0" />
<line x1="636.8" y1="280.2" x2="636.8" y2="606.9" stroke="#3a3a3a" stroke-width="0.85" />
<line x1="639.6" y1="278.6" x2="639.6" y2="605.3" stroke="#3a3a3a" stroke-width="0.85" />
<line x1="642.4" y1="277" x2="642.4" y2="603.7" stroke="#3a3a3a" stroke-width="0.85" />
<line x1="645.1" y1="275.4" x2="645.1" y2="602.1" stroke="#3a3a3a" stroke-width="1.0" />
<line x1="634.1" y1="298.8" x2="645.1" y2="292.4" stroke="#3a3a3a" stroke-width="0.7" />
<line x1="634.1" y1="313.8" x2="645.1" y2="307.4" stroke="#3a3a3a" stroke-width="0.7" />
<line x1="634.1" y1="331.8" x2="645.1" y2="325.4" stroke="#3a3a3a" stroke-width="0.7" />
<line x1="634.1" y1="346.8" x2="645.1" y2="340.4" stroke="#3a3a3a" stroke-width="0.7" />
<line x1="634.1" y1="364.8" x2="645.1" y2="358.4" stroke="#3a3a3a" stroke-width="0.7" />
<line x1="634.1" y1="379.8" x2="645.1" y2="373.4" stroke="#3a3a3a" stroke-width="0.7" />
<line x1="634.1" y1="397.8" x2="645.1" y2="391.4" stroke="#3a3a3a" stroke-width="0.7" />
<line x1="634.1" y1="412.8" x2="645.1" y2="406.4" stroke="#3a3a3a" stroke-width="0.7" />
<line x1="634.1" y1="430.8" x2="645.1" y2="424.4" stroke="#3a3a3a" stroke-width="0.7" />
<line x1="634.1" y1="445.8" x2="645.1" y2="439.4" stroke="#3a3a3a" stroke-width="0.7" />
<line x1="634.1" y1="463.8" x2="645.1" y2="457.4" stroke="#3a3a3a" stroke-width="0.7" />
<line x1="634.1" y1="478.8" x2="645.1" y2="472.4" stroke="#3a3a3a" stroke-width="0.7" />
<line x1="634.1" y1="496.8" x2="645.1" y2="490.4" stroke="#3a3a3a" stroke-width="0.7" />
<line x1="634.1" y1="511.8" x2="645.1" y2="505.4" stroke="#3a3a3a" stroke-width="0.7" />
<line x1="634.1" y1="529.8" x2="645.1" y2="523.4" stroke="#3a3a3a" stroke-width="0.7" />
<line x1="634.1" y1="544.8" x2="645.1" y2="538.4" stroke="#3a3a3a" stroke-width="0.7" />
<line x1="634.1" y1="562.8" x2="645.1" y2="556.4" stroke="#3a3a3a" stroke-width="0.7" />
<line x1="634.1" y1="577.8" x2="645.1" y2="571.4" stroke="#3a3a3a" stroke-width="0.7" />
<line x1="648.1" y1="271.2" x2="648.1" y2="605.6" stroke="#111" stroke-width="1.4" />
<line x1="651" y1="272" x2="651" y2="608.7" stroke="#3a3a3a" stroke-width="1.0" />
<line x1="651" y1="272" x2="761" y2="208.5" stroke="#3a3a3a" stroke-width="0.85" />
<polygon points="665.4,263.7 676.4,257.4 676.4,274.4 665.4,280.7" fill="#f4f4f4" stroke="#3a3a3a" stroke-width="0.85" stroke-linejoin="round" />
<line x1="667.9" y1="262.3" x2="667.9" y2="279.3" stroke="#3a3a3a" stroke-width="0.7" />
<line x1="670.9" y1="260.5" x2="670.9" y2="277.5" stroke="#3a3a3a" stroke-width="0.7" />
<line x1="673.9" y1="258.8" x2="673.9" y2="275.8" stroke="#3a3a3a" stroke-width="0.7" />
<polygon points="723.3,230.3 734.3,223.9 734.3,240.9 723.3,247.3" fill="#f4f4f4" stroke="#3a3a3a" stroke-width="0.85" stroke-linejoin="round" />
<line x1="725.8" y1="228.8" x2="725.8" y2="245.8" stroke="#3a3a3a" stroke-width="0.7" />
<line x1="728.8" y1="227.1" x2="728.8" y2="244.1" stroke="#3a3a3a" stroke-width="0.7" />
<line x1="731.8" y1="225.4" x2="731.8" y2="242.4" stroke="#3a3a3a" stroke-width="0.7" />
<polygon points="666.8,558.9 677.8,552.5 677.8,573.2 666.8,579.6" fill="#f4f4f4" stroke="#3a3a3a" stroke-width="0.85" stroke-linejoin="round" />
<line x1="669.3" y1="557.4" x2="669.3" y2="578.1" stroke="#3a3a3a" stroke-width="0.7" />
<line x1="672.3" y1="555.7" x2="672.3" y2="576.4" stroke="#3a3a3a" stroke-width="0.7" />
<line x1="675.3" y1="553.9" x2="675.3" y2="574.6" stroke="#3a3a3a" stroke-width="0.7" />
<polygon points="723.3,526.3 734.3,519.9 734.3,540.6 723.3,547" fill="#f4f4f4" stroke="#3a3a3a" stroke-width="0.85" stroke-linejoin="round" />
<line x1="725.8" y1="524.8" x2="725.8" y2="545.5" stroke="#3a3a3a" stroke-width="0.7" />
<line x1="728.8" y1="523.1" x2="728.8" y2="543.8" stroke="#3a3a3a" stroke-width="0.7" />
<line x1="731.8" y1="521.4" x2="731.8" y2="542.1" stroke="#3a3a3a" stroke-width="0.7" />
<polygon points="651,289 750,231.8 750,246.8 651,304" fill="#fff" stroke="none" stroke-width="0" stroke-linejoin="round" />
<polygon points="651,291.2 750,234 750,238.2 651,295.4" fill="#d4d4d4" stroke="none" stroke-width="0" stroke-linejoin="round" />
<line x1="651" y1="289" x2="761" y2="225.5" stroke="#3a3a3a" stroke-width="1.0" />
<line x1="651" y1="291.2" x2="761" y2="227.7" stroke="#3a3a3a" stroke-width="0.8" />
<line x1="651" y1="300.3" x2="761" y2="236.8" stroke="#3a3a3a" stroke-width="0.8" />
<line x1="651" y1="302.2" x2="761" y2="238.7" stroke="#3a3a3a" stroke-width="0.8" />
<line x1="651" y1="304" x2="761" y2="240.5" stroke="#3a3a3a" stroke-width="1.0" />
<g transform="rotate(-30 665.4 289.3)"><rect x="659.4" y="287.3" width="12" height="4" fill="#fff" stroke="#333" stroke-width="0.8"/><rect x="659.4" y="287.3" width="3" height="4" fill="#222"/><rect x="666.4" y="287.3" width="2.2" height="4" fill="#222"/></g>
<rect x="694" y="267.2" width="13" height="3.6" rx="1.2" fill="#9a9a9a" stroke="#222" stroke-width="1.1" transform="rotate(-30 700.5 269)"/>
<g transform="rotate(-30 737.1 247.9)"><rect x="731.1" y="245.9" width="12" height="4" fill="#fff" stroke="#333" stroke-width="0.8"/><rect x="731.1" y="245.9" width="3" height="4" fill="#222"/><rect x="738.1" y="245.9" width="2.2" height="4" fill="#222"/></g>
<polygon points="651,322 750,264.8 750,279.8 651,337" fill="#fff" stroke="none" stroke-width="0" stroke-linejoin="round" />
<polygon points="651,324.2 750,267 750,271.2 651,328.4" fill="#d4d4d4" stroke="none" stroke-width="0" stroke-linejoin="round" />
<line x1="651" y1="322" x2="761" y2="258.5" stroke="#3a3a3a" stroke-width="1.0" />
<line x1="651" y1="324.2" x2="761" y2="260.7" stroke="#3a3a3a" stroke-width="0.8" />
<line x1="651" y1="333.3" x2="761" y2="269.8" stroke="#3a3a3a" stroke-width="0.8" />
<line x1="651" y1="335.2" x2="761" y2="271.7" stroke="#3a3a3a" stroke-width="0.8" />
<line x1="651" y1="337" x2="761" y2="273.5" stroke="#3a3a3a" stroke-width="1.0" />
<g transform="rotate(-30 665.4 322.3)"><rect x="659.4" y="320.3" width="12" height="4" fill="#fff" stroke="#333" stroke-width="0.8"/><rect x="659.4" y="320.3" width="3" height="4" fill="#222"/><rect x="666.4" y="320.3" width="2.2" height="4" fill="#222"/></g>
<rect x="694" y="300.2" width="13" height="3.6" rx="1.2" fill="#9a9a9a" stroke="#222" stroke-width="1.1" transform="rotate(-30 700.5 302)"/>
<g transform="rotate(-30 737.1 280.9)"><rect x="731.1" y="278.9" width="12" height="4" fill="#fff" stroke="#333" stroke-width="0.8"/><rect x="731.1" y="278.9" width="3" height="4" fill="#222"/><rect x="738.1" y="278.9" width="2.2" height="4" fill="#222"/></g>
<polygon points="651,355 750,297.8 750,312.8 651,370" fill="#fff" stroke="none" stroke-width="0" stroke-linejoin="round" />
<polygon points="651,357.2 750,300 750,304.2 651,361.4" fill="#d4d4d4" stroke="none" stroke-width="0" stroke-linejoin="round" />
<line x1="651" y1="355" x2="761" y2="291.5" stroke="#3a3a3a" stroke-width="1.0" />
<line x1="651" y1="357.2" x2="761" y2="293.7" stroke="#3a3a3a" stroke-width="0.8" />
<line x1="651" y1="366.3" x2="761" y2="302.8" stroke="#3a3a3a" stroke-width="0.8" />
<line x1="651" y1="368.2" x2="761" y2="304.7" stroke="#3a3a3a" stroke-width="0.8" />
<line x1="651" y1="370" x2="761" y2="306.5" stroke="#3a3a3a" stroke-width="1.0" />
<g transform="rotate(-30 665.4 355.3)"><rect x="659.4" y="353.3" width="12" height="4" fill="#fff" stroke="#333" stroke-width="0.8"/><rect x="659.4" y="353.3" width="3" height="4" fill="#222"/><rect x="666.4" y="353.3" width="2.2" height="4" fill="#222"/></g>
<rect x="694" y="333.2" width="13" height="3.6" rx="1.2" fill="#9a9a9a" stroke="#222" stroke-width="1.1" transform="rotate(-30 700.5 335)"/>
<g transform="rotate(-30 737.1 313.9)"><rect x="731.1" y="311.9" width="12" height="4" fill="#fff" stroke="#333" stroke-width="0.8"/><rect x="731.1" y="311.9" width="3" height="4" fill="#222"/><rect x="738.1" y="311.9" width="2.2" height="4" fill="#222"/></g>
<polygon points="651,388 750,330.8 750,345.8 651,403" fill="#fff" stroke="none" stroke-width="0" stroke-linejoin="round" />
<polygon points="651,390.2 750,333 750,337.2 651,394.4" fill="#d4d4d4" stroke="none" stroke-width="0" stroke-linejoin="round" />
<line x1="651" y1="388" x2="761" y2="324.5" stroke="#3a3a3a" stroke-width="1.0" />
<line x1="651" y1="390.2" x2="761" y2="326.7" stroke="#3a3a3a" stroke-width="0.8" />
<line x1="651" y1="399.3" x2="761" y2="335.8" stroke="#3a3a3a" stroke-width="0.8" />
<line x1="651" y1="401.2" x2="761" y2="337.7" stroke="#3a3a3a" stroke-width="0.8" />
<line x1="651" y1="403" x2="761" y2="339.5" stroke="#3a3a3a" stroke-width="1.0" />
<g transform="rotate(-30 665.4 388.3)"><rect x="659.4" y="386.3" width="12" height="4" fill="#fff" stroke="#333" stroke-width="0.8"/><rect x="659.4" y="386.3" width="3" height="4" fill="#222"/><rect x="666.4" y="386.3" width="2.2" height="4" fill="#222"/></g>
<rect x="694" y="366.2" width="13" height="3.6" rx="1.2" fill="#9a9a9a" stroke="#222" stroke-width="1.1" transform="rotate(-30 700.5 368)"/>
<g transform="rotate(-30 737.1 346.9)"><rect x="731.1" y="344.9" width="12" height="4" fill="#fff" stroke="#333" stroke-width="0.8"/><rect x="731.1" y="344.9" width="3" height="4" fill="#222"/><rect x="738.1" y="344.9" width="2.2" height="4" fill="#222"/></g>
<polygon points="651,421 750,363.8 750,378.8 651,436" fill="#fff" stroke="none" stroke-width="0" stroke-linejoin="round" />
<polygon points="651,423.2 750,366 750,370.2 651,427.4" fill="#d4d4d4" stroke="none" stroke-width="0" stroke-linejoin="round" />
<line x1="651" y1="421" x2="761" y2="357.5" stroke="#3a3a3a" stroke-width="1.0" />
<line x1="651" y1="423.2" x2="761" y2="359.7" stroke="#3a3a3a" stroke-width="0.8" />
<line x1="651" y1="432.3" x2="761" y2="368.8" stroke="#3a3a3a" stroke-width="0.8" />
<line x1="651" y1="434.2" x2="761" y2="370.7" stroke="#3a3a3a" stroke-width="0.8" />
<line x1="651" y1="436" x2="761" y2="372.5" stroke="#3a3a3a" stroke-width="1.0" />
<g transform="rotate(-30 665.4 421.3)"><rect x="659.4" y="419.3" width="12" height="4" fill="#fff" stroke="#333" stroke-width="0.8"/><rect x="659.4" y="419.3" width="3" height="4" fill="#222"/><rect x="666.4" y="419.3" width="2.2" height="4" fill="#222"/></g>
<rect x="694" y="399.2" width="13" height="3.6" rx="1.2" fill="#9a9a9a" stroke="#222" stroke-width="1.1" transform="rotate(-30 700.5 401)"/>
<g transform="rotate(-30 737.1 379.9)"><rect x="731.1" y="377.9" width="12" height="4" fill="#fff" stroke="#333" stroke-width="0.8"/><rect x="731.1" y="377.9" width="3" height="4" fill="#222"/><rect x="738.1" y="377.9" width="2.2" height="4" fill="#222"/></g>
<polygon points="651,454 750,396.8 750,411.8 651,469" fill="#fff" stroke="none" stroke-width="0" stroke-linejoin="round" />
<polygon points="651,456.2 750,399 750,403.2 651,460.4" fill="#d4d4d4" stroke="none" stroke-width="0" stroke-linejoin="round" />
<line x1="651" y1="454" x2="761" y2="390.5" stroke="#3a3a3a" stroke-width="1.0" />
<line x1="651" y1="456.2" x2="761" y2="392.7" stroke="#3a3a3a" stroke-width="0.8" />
<line x1="651" y1="465.3" x2="761" y2="401.8" stroke="#3a3a3a" stroke-width="0.8" />
<line x1="651" y1="467.2" x2="761" y2="403.7" stroke="#3a3a3a" stroke-width="0.8" />
<line x1="651" y1="469" x2="761" y2="405.5" stroke="#3a3a3a" stroke-width="1.0" />
<g transform="rotate(-30 665.4 454.3)"><rect x="659.4" y="452.3" width="12" height="4" fill="#fff" stroke="#333" stroke-width="0.8"/><rect x="659.4" y="452.3" width="3" height="4" fill="#222"/><rect x="666.4" y="452.3" width="2.2" height="4" fill="#222"/></g>
<rect x="694" y="432.2" width="13" height="3.6" rx="1.2" fill="#9a9a9a" stroke="#222" stroke-width="1.1" transform="rotate(-30 700.5 434)"/>
<g transform="rotate(-30 737.1 412.9)"><rect x="731.1" y="410.9" width="12" height="4" fill="#fff" stroke="#333" stroke-width="0.8"/><rect x="731.1" y="410.9" width="3" height="4" fill="#222"/><rect x="738.1" y="410.9" width="2.2" height="4" fill="#222"/></g>
<polygon points="651,487 750,429.8 750,444.8 651,502" fill="#fff" stroke="none" stroke-width="0" stroke-linejoin="round" />
<polygon points="651,489.2 750,432 750,436.2 651,493.4" fill="#d4d4d4" stroke="none" stroke-width="0" stroke-linejoin="round" />
<line x1="651" y1="487" x2="761" y2="423.5" stroke="#3a3a3a" stroke-width="1.0" />
<line x1="651" y1="489.2" x2="761" y2="425.7" stroke="#3a3a3a" stroke-width="0.8" />
<line x1="651" y1="498.3" x2="761" y2="434.8" stroke="#3a3a3a" stroke-width="0.8" />
<line x1="651" y1="500.2" x2="761" y2="436.7" stroke="#3a3a3a" stroke-width="0.8" />
<line x1="651" y1="502" x2="761" y2="438.5" stroke="#3a3a3a" stroke-width="1.0" />
<g transform="rotate(-30 665.4 487.3)"><rect x="659.4" y="485.3" width="12" height="4" fill="#fff" stroke="#333" stroke-width="0.8"/><rect x="659.4" y="485.3" width="3" height="4" fill="#222"/><rect x="666.4" y="485.3" width="2.2" height="4" fill="#222"/></g>
<rect x="694" y="465.2" width="13" height="3.6" rx="1.2" fill="#9a9a9a" stroke="#222" stroke-width="1.1" transform="rotate(-30 700.5 467)"/>
<g transform="rotate(-30 737.1 445.9)"><rect x="731.1" y="443.9" width="12" height="4" fill="#fff" stroke="#333" stroke-width="0.8"/><rect x="731.1" y="443.9" width="3" height="4" fill="#222"/><rect x="738.1" y="443.9" width="2.2" height="4" fill="#222"/></g>
<polygon points="651,520 750,462.8 750,477.8 651,535" fill="#fff" stroke="none" stroke-width="0" stroke-linejoin="round" />
<polygon points="651,522.2 750,465 750,469.2 651,526.4" fill="#d4d4d4" stroke="none" stroke-width="0" stroke-linejoin="round" />
<line x1="651" y1="520" x2="761" y2="456.5" stroke="#3a3a3a" stroke-width="1.0" />
<line x1="651" y1="522.2" x2="761" y2="458.7" stroke="#3a3a3a" stroke-width="0.8" />
<line x1="651" y1="531.3" x2="761" y2="467.8" stroke="#3a3a3a" stroke-width="0.8" />
<line x1="651" y1="533.2" x2="761" y2="469.7" stroke="#3a3a3a" stroke-width="0.8" />
<line x1="651" y1="535" x2="761" y2="471.5" stroke="#3a3a3a" stroke-width="1.0" />
<g transform="rotate(-30 665.4 520.3)"><rect x="659.4" y="518.3" width="12" height="4" fill="#fff" stroke="#333" stroke-width="0.8"/><rect x="659.4" y="518.3" width="3" height="4" fill="#222"/><rect x="666.4" y="518.3" width="2.2" height="4" fill="#222"/></g>
<rect x="694" y="498.2" width="13" height="3.6" rx="1.2" fill="#9a9a9a" stroke="#222" stroke-width="1.1" transform="rotate(-30 700.5 500)"/>
<g transform="rotate(-30 737.1 478.9)"><rect x="731.1" y="476.9" width="12" height="4" fill="#fff" stroke="#333" stroke-width="0.8"/><rect x="731.1" y="476.9" width="3" height="4" fill="#222"/><rect x="738.1" y="476.9" width="2.2" height="4" fill="#222"/></g>
<polygon points="651,553 750,495.8 750,510.8 651,568" fill="#fff" stroke="none" stroke-width="0" stroke-linejoin="round" />
<polygon points="651,555.2 750,498 750,502.2 651,559.4" fill="#d4d4d4" stroke="none" stroke-width="0" stroke-linejoin="round" />
<line x1="651" y1="553" x2="761" y2="489.5" stroke="#3a3a3a" stroke-width="1.0" />
<line x1="651" y1="555.2" x2="761" y2="491.7" stroke="#3a3a3a" stroke-width="0.8" />
<line x1="651" y1="564.3" x2="761" y2="500.8" stroke="#3a3a3a" stroke-width="0.8" />
<line x1="651" y1="566.2" x2="761" y2="502.7" stroke="#3a3a3a" stroke-width="0.8" />
<line x1="651" y1="568" x2="761" y2="504.5" stroke="#3a3a3a" stroke-width="1.0" />
<g transform="rotate(-30 665.4 553.3)"><rect x="659.4" y="551.3" width="12" height="4" fill="#fff" stroke="#333" stroke-width="0.8"/><rect x="659.4" y="551.3" width="3" height="4" fill="#222"/><rect x="666.4" y="551.3" width="2.2" height="4" fill="#222"/></g>
<rect x="694" y="531.2" width="13" height="3.6" rx="1.2" fill="#9a9a9a" stroke="#222" stroke-width="1.1" transform="rotate(-30 700.5 533)"/>
<g transform="rotate(-30 737.1 511.9)"><rect x="731.1" y="509.9" width="12" height="4" fill="#fff" stroke="#333" stroke-width="0.8"/><rect x="731.1" y="509.9" width="3" height="4" fill="#222"/><rect x="738.1" y="509.9" width="2.2" height="4" fill="#222"/></g>
<polygon points="651,588.7 750,531.5 750,548 651,605.2" fill="#fff" stroke="none" stroke-width="0" stroke-linejoin="round" />
<line x1="651" y1="588.7" x2="761" y2="525.2" stroke="#3a3a3a" stroke-width="0.85" />
<line x1="651" y1="590.9" x2="761" y2="527.4" stroke="#3a3a3a" stroke-width="0.85" />
<line x1="651" y1="596.7" x2="761" y2="533.2" stroke="#3a3a3a" stroke-width="0.85" />
<line x1="651" y1="598.7" x2="761" y2="535.2" stroke="#3a3a3a" stroke-width="0.85" />
<line x1="651" y1="605.2" x2="761" y2="541.7" stroke="#3a3a3a" stroke-width="0.85" />
<polygon points="750,214.8 761,208.5 761,535.2 750,541.5" fill="#f2f2f2" stroke="none" stroke-width="0" stroke-linejoin="round" />
<line x1="750" y1="214.8" x2="750" y2="541.5" stroke="#3a3a3a" stroke-width="1.0" />
<line x1="752.7" y1="213.3" x2="752.7" y2="540" stroke="#3a3a3a" stroke-width="0.85" />
<line x1="755.5" y1="211.7" x2="755.5" y2="538.4" stroke="#3a3a3a" stroke-width="0.85" />
<line x1="758.3" y1="210" x2="758.3" y2="536.7" stroke="#3a3a3a" stroke-width="0.85" />
<line x1="761" y1="208.5" x2="761" y2="535.2" stroke="#3a3a3a" stroke-width="1.0" />
<line x1="750" y1="231.8" x2="761" y2="225.5" stroke="#3a3a3a" stroke-width="0.7" />
<line x1="750" y1="246.8" x2="761" y2="240.5" stroke="#3a3a3a" stroke-width="0.7" />
<line x1="750" y1="264.8" x2="761" y2="258.5" stroke="#3a3a3a" stroke-width="0.7" />
<line x1="750" y1="279.8" x2="761" y2="273.5" stroke="#3a3a3a" stroke-width="0.7" />
<line x1="750" y1="297.8" x2="761" y2="291.5" stroke="#3a3a3a" stroke-width="0.7" />
<line x1="750" y1="312.8" x2="761" y2="306.5" stroke="#3a3a3a" stroke-width="0.7" />
<line x1="750" y1="330.8" x2="761" y2="324.5" stroke="#3a3a3a" stroke-width="0.7" />
<line x1="750" y1="345.8" x2="761" y2="339.5" stroke="#3a3a3a" stroke-width="0.7" />
<line x1="750" y1="363.8" x2="761" y2="357.5" stroke="#3a3a3a" stroke-width="0.7" />
<line x1="750" y1="378.8" x2="761" y2="372.5" stroke="#3a3a3a" stroke-width="0.7" />
<line x1="750" y1="396.8" x2="761" y2="390.5" stroke="#3a3a3a" stroke-width="0.7" />
<line x1="750" y1="411.8" x2="761" y2="405.5" stroke="#3a3a3a" stroke-width="0.7" />
<line x1="750" y1="429.8" x2="761" y2="423.5" stroke="#3a3a3a" stroke-width="0.7" />
<line x1="750" y1="444.8" x2="761" y2="438.5" stroke="#3a3a3a" stroke-width="0.7" />
<line x1="750" y1="462.8" x2="761" y2="456.5" stroke="#3a3a3a" stroke-width="0.7" />
<line x1="750" y1="477.8" x2="761" y2="471.5" stroke="#3a3a3a" stroke-width="0.7" />
<line x1="750" y1="495.8" x2="761" y2="489.5" stroke="#3a3a3a" stroke-width="0.7" />
<line x1="750" y1="510.8" x2="761" y2="504.5" stroke="#3a3a3a" stroke-width="0.7" />
<polygon points="425.3,465.9 768.3,264.4 868.5,321.7 518.4,521.5" fill="#fff" stroke="#222" stroke-width="0" stroke-linejoin="round" />
<line x1="425.3" y1="465.9" x2="768.3" y2="264.4" stroke="#222" stroke-width="1.2" />
<line x1="768.3" y1="264.4" x2="845.8" y2="306.7" stroke="#222" stroke-width="1.1" />
<line x1="457.3" y1="483.4" x2="801.7" y2="283.5" stroke="#222" stroke-width="1.2" />
<line x1="489.9" y1="501.4" x2="835.1" y2="302.6" stroke="#222" stroke-width="1.2" />
<polygon points="425.3,465.9 457.3,483.4 489.9,501.4 518.4,521.5 518.4,525.5 489.9,505.4 457.3,487.4 424,470" fill="#fff" stroke="#222" stroke-width="1.0" stroke-linejoin="round" />
<line x1="457.3" y1="483.4" x2="457.3" y2="487.4" stroke="#222" stroke-width="1" />
<line x1="489.9" y1="501.4" x2="489.9" y2="505.4" stroke="#222" stroke-width="1" />
<polygon points="440,478 447,481 447,536 440,533" fill="#fff" stroke="#222" stroke-width="1.0" stroke-linejoin="round" />
<polygon points="436,530 447,533 447,538 436,535" fill="#fff" stroke="#222" stroke-width="1.0" stroke-linejoin="round" />
<polygon points="443,520.3 540,521.8 540,527.3 443,526.8" fill="#fff" stroke="#222" stroke-width="1.0" stroke-linejoin="round" />
<polygon points="512.9,361.4 848.3,169.2 851.8,171.4 516.4,363.6" fill="#fff" stroke="#222" stroke-width="1.0" stroke-linejoin="round" />
<polygon points="516.4,363.6 851.8,171.4 851.8,187.3 516.4,379.5" fill="#fff" stroke="#222" stroke-width="1.1" stroke-linejoin="round" />
<polygon points="512.9,361.4 516.4,363.6 516.4,379.5 512.9,376.3" fill="#fff" stroke="#222" stroke-width="1.0" stroke-linejoin="round" />
<polygon points="512.9,418.4 848.3,229.3 851.8,231.5 516.4,420.6" fill="#fff" stroke="#222" stroke-width="1.0" stroke-linejoin="round" />
<polygon points="516.4,420.6 851.8,231.5 851.8,248.9 516.4,438" fill="#fff" stroke="#222" stroke-width="1.1" stroke-linejoin="round" />
<polygon points="512.9,418.4 516.4,420.6 516.4,438 512.9,434.8" fill="#fff" stroke="#222" stroke-width="1.0" stroke-linejoin="round" />
<polygon points="530,508.8 770,371.5 770,380.5 530,515.8" fill="#fff" stroke="none" stroke-width="0" stroke-linejoin="round" />
<line x1="540" y1="509.6" x2="770" y2="380" stroke="#333" stroke-width="0.9" />
<polygon points="512.9,499.4 858.5,301.7 863,304.3 517.4,502" fill="#fff" stroke="#222" stroke-width="1.0" stroke-linejoin="round" />
<polygon points="517.4,502 863,304.3 863,319.8 517.4,517.5" fill="#fff" stroke="#222" stroke-width="1.1" stroke-linejoin="round" />
<polygon points="512.9,499.4 517.4,502 517.4,517.5 512.9,513.9" fill="#fff" stroke="#222" stroke-width="1.0" stroke-linejoin="round" />
<polyline points="863,304.5 863,318.6 866.5,319.5 866.5,322.5 518,524" fill="none" stroke="#222" stroke-width="1.0" stroke-linejoin="round" stroke-linecap="round" />
<polygon points="415.4,661.4 429.8,654.9 429.8,667.4 416.4,677.7" fill="#fff" stroke="#111" stroke-width="1.1" stroke-linejoin="round" />
<line x1="416.4" y1="662.4" x2="416.4" y2="677.4" stroke="#111" stroke-width="1.6" />
<path d="M424.4,659.4 L429.9,654.4 L433.9,657.4 L434.9,665.4 L430.9,670.4 L425.4,668.4 Z" fill="#fff" stroke="#111" stroke-width="1.6"/>
<path d="M427.4,658.4 L431.4,656.4 L433.4,663.4 L429.4,667.4 Z" fill="#222"/>
<ellipse cx="421.4" cy="665.4" rx="1.8" ry="2.4" fill="#fff" />
<line x1="429.4" y1="668.4" x2="438.4" y2="674.9" stroke="#111" stroke-width="2.8" stroke-linecap="round"/>
<line x1="430.4" y1="669" x2="437.9" y2="674.4" stroke="#ddd" stroke-width="0.9" stroke-linecap="round"/>
<polygon points="416,468.5 427,464 428,481 417,485" fill="#fff" stroke="#111" stroke-width="1.1" stroke-linejoin="round" />
<line x1="416.8" y1="468.5" x2="416.8" y2="485.5" stroke="#111" stroke-width="2.2" />
<polygon points="419,471 425,468.5 420,480" fill="#eee" stroke="#333" stroke-width="0.8" stroke-linejoin="round" />
<path d="M426,473 L431,471 L434,474 L432,478 L427,479 Z" fill="#333"/>
<line x1="428" y1="476" x2="438" y2="480" stroke="#333" stroke-width="1.2" />
<polygon points="531,597 545.4,590.5 545.4,603 532,613.3" fill="#fff" stroke="#111" stroke-width="1.1" stroke-linejoin="round" />
<line x1="532" y1="598" x2="532" y2="613" stroke="#111" stroke-width="1.6" />
<path d="M540,595 L545.5,590 L549.5,593 L550.5,601 L546.5,606 L541,604 Z" fill="#fff" stroke="#111" stroke-width="1.6"/>
<path d="M543,594 L547,592 L549,599 L545,603 Z" fill="#222"/>
<ellipse cx="537" cy="601" rx="1.8" ry="2.4" fill="#fff" />
<line x1="545" y1="604" x2="554" y2="610.5" stroke="#111" stroke-width="2.8" stroke-linecap="round"/>
<line x1="546" y1="604.6" x2="553.5" y2="610" stroke="#ddd" stroke-width="0.9" stroke-linecap="round"/>
<polygon points="645,529 659.4,522.5 659.4,535 646,545.3" fill="#fff" stroke="#111" stroke-width="1.1" stroke-linejoin="round" />
<line x1="646" y1="530" x2="646" y2="545" stroke="#111" stroke-width="1.6" />
<path d="M654,527 L659.5,522 L663.5,525 L664.5,533 L660.5,538 L655,536 Z" fill="#fff" stroke="#111" stroke-width="1.6"/>
<path d="M657,526 L661,524 L663,531 L659,535 Z" fill="#222"/>
<ellipse cx="651" cy="533" rx="1.8" ry="2.4" fill="#fff" />
<line x1="659" y1="536" x2="668" y2="542.5" stroke="#111" stroke-width="2.8" stroke-linecap="round"/>
<line x1="660" y1="536.6" x2="667.5" y2="542" stroke="#ddd" stroke-width="0.9" stroke-linecap="round"/>
<polygon points="756,468 770.4,461.5 770.4,474 757,484.3" fill="#fff" stroke="#111" stroke-width="1.1" stroke-linejoin="round" />
<line x1="757" y1="469" x2="757" y2="484" stroke="#111" stroke-width="1.6" />
<path d="M765,466 L770.5,461 L774.5,464 L775.5,472 L771.5,477 L766,475 Z" fill="#fff" stroke="#111" stroke-width="1.6"/>
<path d="M768,465 L772,463 L774,470 L770,474 Z" fill="#222"/>
<ellipse cx="762" cy="472" rx="1.8" ry="2.4" fill="#fff" />
<line x1="770" y1="475" x2="779" y2="481.5" stroke="#111" stroke-width="2.8" stroke-linecap="round"/>
<line x1="771" y1="475.6" x2="778.5" y2="481" stroke="#ddd" stroke-width="0.9" stroke-linecap="round"/>
<polygon points="534,626 542,623 542,629 534,632" fill="#fff" stroke="#111" stroke-width="0.9" stroke-linejoin="round" />
<path d="M541,625 L556,623 L561,630 L558,638 L547,640 L541,634 Z" fill="#fff" stroke="#111" stroke-width="1.2"/>
<path d="M548,626 L556,625 L558,632 L551,636 Z" fill="#222"/>
<polygon points="539,634 545,632 545,651 539,653" fill="#eee" stroke="#111" stroke-width="0.9" stroke-linejoin="round" />
<polygon points="550,635 556,633 556,650 550,652" fill="#eee" stroke="#111" stroke-width="0.9" stroke-linejoin="round" />
<line x1="547" y1="636" x2="547" y2="650" stroke="#111" stroke-width="1.5" />
<path d="M520,644 L530,640 L537,644 L537,652 L528,655 L521,651 Z" fill="#fff" stroke="#111" stroke-width="1.2"/>
<path d="M526,645 L535,644 L535,651 L528,653 Z" fill="#2a2a2a"/>
<polygon points="523,643 528,640 530,644 525,647" fill="#fff" stroke="#111" stroke-width="0.6" stroke-linejoin="round" />
<polygon points="651,559 659,556 659,562 651,565" fill="#fff" stroke="#111" stroke-width="0.9" stroke-linejoin="round" />
<path d="M658,558 L673,556 L678,563 L675,571 L664,573 L658,567 Z" fill="#fff" stroke="#111" stroke-width="1.2"/>
<path d="M665,559 L673,558 L675,565 L668,569 Z" fill="#222"/>
<polygon points="656,567 662,565 662,584 656,586" fill="#eee" stroke="#111" stroke-width="0.9" stroke-linejoin="round" />
<polygon points="667,568 673,566 673,583 667,585" fill="#eee" stroke="#111" stroke-width="0.9" stroke-linejoin="round" />
<line x1="664" y1="569" x2="664" y2="583" stroke="#111" stroke-width="1.5" />
<path d="M637,577 L647,573 L654,577 L654,585 L645,588 L638,584 Z" fill="#fff" stroke="#111" stroke-width="1.2"/>
<path d="M643,578 L652,577 L652,584 L645,586 Z" fill="#2a2a2a"/>
<polygon points="640,576 645,573 647,577 642,580" fill="#fff" stroke="#111" stroke-width="0.6" stroke-linejoin="round" />
<path d="M429,456 L430,452 L435,448 L441,447 L444,450 L444,452 L438.5,456 L433,457 Z" fill="#a51a33" stroke="#4a0a14" stroke-width="0.8"/>
<line x1="434" y1="451" x2="434" y2="455" stroke="#5a0c18" stroke-width="1.1" />
<line x1="437.5" y1="450" x2="437.5" y2="454" stroke="#5a0c18" stroke-width="1.1" />
<path d="M501,415 L502,410 L507,406 L511,405 L514,408 L514,411 L509.5,415 L505,416 Z" fill="#a51a33" stroke="#4a0a14" stroke-width="0.8"/>
<line x1="506" y1="409" x2="506" y2="414" stroke="#5a0c18" stroke-width="1.1" />
<line x1="508.5" y1="408" x2="508.5" y2="413" stroke="#5a0c18" stroke-width="1.1" />
<path d="M659,321 L660,317 L665,313 L670,312 L673,315 L673,317 L668,321 L663,322 Z" fill="#a51a33" stroke="#4a0a14" stroke-width="0.8"/>
<line x1="664" y1="316" x2="664" y2="320" stroke="#5a0c18" stroke-width="1.1" />
<line x1="667" y1="315" x2="667" y2="319" stroke="#5a0c18" stroke-width="1.1" />
<path d="M731,283 L732,277 L737,273 L740,272 L743,275 L743,279 L739,283 L735,284 Z" fill="#a51a33" stroke="#4a0a14" stroke-width="0.8"/>
<line x1="736" y1="276" x2="736" y2="282" stroke="#5a0c18" stroke-width="1.1" />
<line x1="738" y1="275" x2="738" y2="281" stroke="#5a0c18" stroke-width="1.1" />
<polygon points="506.5,656.1 636.5,749.1 639.5,744.9 509.5,651.9" fill="#d92643" stroke="#5a1020" stroke-width="1.0" stroke-linejoin="round" />
<polygon points="559.1,696.1 580.1,711.1 585.9,702.9 564.9,687.9" fill="#d92643" stroke="#5a1020" stroke-width="1.0" stroke-linejoin="round" />
<line x1="566" y1="694.5" x2="579.5" y2="704.5" stroke="#7a1020" stroke-width="1" />
<polygon points="738.4,524.3 866.4,612.3 869.6,607.7 741.6,519.7" fill="#d92643" stroke="#5a1020" stroke-width="1.0" stroke-linejoin="round" />
<polygon points="790.7,564.7 808.7,580.7 815.3,573.3 797.3,557.3" fill="#d92643" stroke="#5a1020" stroke-width="1.0" stroke-linejoin="round" />
<line x1="797.5" y1="564" x2="808.5" y2="574" stroke="#7a1020" stroke-width="1" />
<polygon points="500.5,642 514,638 515.5,646 502,650.5" fill="#a51a33" stroke="#5a1020" stroke-width="0.8" stroke-linejoin="round" />
<polygon points="730.5,508 744,503.5 745.6,513 732,517" fill="#a51a33" stroke="#5a1020" stroke-width="0.8" stroke-linejoin="round" />
<polygon points="540.2,513 631.2,728 640.8,724 549.8,509" fill="#d92643" stroke="#5a1020" stroke-width="1.0" stroke-linejoin="round" />
<polygon points="632.2,725 640.2,748 645.8,746 637.8,723" fill="#d92643" stroke="#5a1020" stroke-width="1.0" stroke-linejoin="round" />
<polygon points="777.6,373.9 861.1,593.9 870.9,590.1 787.4,370.1" fill="#d92643" stroke="#5a1020" stroke-width="1.0" stroke-linejoin="round" />
<polygon points="862.7,591.1 870.2,611.1 875.8,608.9 868.3,588.9" fill="#d92643" stroke="#5a1020" stroke-width="1.0" stroke-linejoin="round" />
<polygon points="629,756.5 645,748.5 658.5,760.5 645.5,768.5" fill="#d92643" stroke="#5a1020" stroke-width="1.1" stroke-linejoin="round" />
<polygon points="635,746 646,740.5 652,743 654,756 643,760 637,755" fill="#c4203c" stroke="#5a1020" stroke-width="1.0" stroke-linejoin="round" />
<ellipse cx="642" cy="752" rx="1.6" ry="1.6" fill="#5a1020" />
<ellipse cx="647" cy="754" rx="1.6" ry="1.6" fill="#5a1020" />
<polygon points="859.2,618 875.2,610 888.7,622 875.7,630" fill="#d92643" stroke="#5a1020" stroke-width="1.1" stroke-linejoin="round" />
<polygon points="865.2,607.5 876.2,602 882.2,604.5 884.2,617.5 873.2,621.5 867.2,616.5" fill="#c4203c" stroke="#5a1020" stroke-width="1.0" stroke-linejoin="round" />
<ellipse cx="872.2" cy="613.5" rx="1.6" ry="1.6" fill="#5a1020" />
<ellipse cx="877.2" cy="615.5" rx="1.6" ry="1.6" fill="#5a1020" />
<polygon points="538.8,354.4 547.6,354.4 547.6,488 538.8,488" fill="#c42a43" stroke="#5a1020" stroke-width="1.0" stroke-linejoin="round" />
<line x1="543.2" y1="355.9" x2="543.2" y2="487" stroke="#a8102a" stroke-width="1.2" />
<ellipse cx="543.2" cy="354.4" rx="4.4" ry="1.8" fill="#b01830" stroke="#5a1020" stroke-width="0.8"/>
<polygon points="531,483.5 538.8,483.5 538.8,488.5 533,488.5" fill="#c0223a" stroke="#5a1020" stroke-width="0.8" stroke-linejoin="round" />
<polygon points="538.8,488 548.1,488 548.1,505.8 538.8,505.8" fill="#d01c38" stroke="#5a1020" stroke-width="1.0" stroke-linejoin="round" />
<polygon points="538.8,505.8 549.4,505.8 549.4,529.6 538.8,529.6" fill="#c42a43" stroke="#5a1020" stroke-width="1.0" stroke-linejoin="round" />
<polygon points="771,220 779.7,220 779.7,354 771,354" fill="#c42a43" stroke="#5a1020" stroke-width="1.0" stroke-linejoin="round" />
<line x1="775.4" y1="221.5" x2="775.4" y2="353" stroke="#a8102a" stroke-width="1.2" />
<ellipse cx="775.4" cy="220" rx="4.4" ry="1.8" fill="#b01830" stroke="#5a1020" stroke-width="0.8"/>
<polygon points="763,349 771,349 771,354 765,354" fill="#c0223a" stroke="#5a1020" stroke-width="0.8" stroke-linejoin="round" />
<polygon points="771,354 780.2,354 780.2,372.6 771,372.6" fill="#d01c38" stroke="#5a1020" stroke-width="1.0" stroke-linejoin="round" />
<polygon points="771,372.6 781,372.6 781,394.7 771,394.7" fill="#c42a43" stroke="#5a1020" stroke-width="1.0" stroke-linejoin="round" />
</svg>

<div class="abs" id="ybox">
<div style="top:23.5px;font-size:16.5px;letter-spacing:1px;line-height:20px;">ALLOWABLE</div>
<div style="top:45px;font-size:16.5px;line-height:20px;">CONCRETE PRESSURE</div>
<div style="top:67.5px;font-size:25px;line-height:30px;letter-spacing:0.8px;">60kN/m<span style="font-size:15px;vertical-align:9px;">2</span></div>
</div>
<div class="abs" id="badge"><div style="position:absolute;left:0;width:100%;top:16.8px;font-size:21px;line-height:24px;letter-spacing:0.5px;color:#4a3b12;">6061-T6</div></div>
<svg class="abs" style="left:195px;top:590px" width="130" height="130" viewBox="0 0 1007 1007">
<defs>
<path id="arcTop" d="M 159,517 A 338,338 0 0 1 835,517"/>
<path id="arcBot" d="M 96,500 A 408,408 0 0 0 912,500"/>
</defs>
<circle cx="497" cy="517" r="450" fill="#fff" stroke="#49acd9" stroke-width="11"/>
<circle cx="497" cy="517" r="300" fill="none" stroke="#49acd9" stroke-width="7"/>
<path d="M209,442 L232,430 L261,436 L284,419 L307,430 L331,407 L348,419 L365,384 L388,413 L406,355 L423,396 L440,338 L457,390 L481,344 L498,384 L515,349 L538,378 L561,361 L584,384 L607,349 L636,367 L654,326 L682,344 L700,315 L729,326 L757,309 L792,303 L827,309 L861,338 L884,373 L896,419 L890,465 L873,499 L850,534 L821,563 L786,586 L804,609 L746,615 L700,644 L682,632 L654,673 L625,661 L590,701 L544,690 L509,716 L469,707 L423,709 L377,686 L331,661 L287,621 L250,583 L221,548 L204,509 Z" fill="#22a6e2"/>
<path d="M209,528 C423,526 607,499 804,451" fill="none" stroke="#fff" stroke-width="11"/>
<path d="M77,465 L209,525" stroke="#1b93cc" stroke-width="11" stroke-linecap="round"/>
<text font-family="Liberation Sans" font-weight="bold" font-size="84" fill="#3aa3d6" letter-spacing="0"><textPath href="#arcTop" startOffset="43%" text-anchor="middle">ALUMI FRAME</textPath></text>
<text font-family="Liberation Sans" font-size="110" fill="#3aa3d6" letter-spacing="-2"><textPath href="#arcBot" startOffset="50%" text-anchor="middle">LIGHT WEIGHT</textPath></text>
</svg>
<div class="abs" id="list">
<div style="top:210.5px"><span class="tri" style="top:3.9px"></span>Wall shuttering</div>
<div style="top:235.4px"><span class="tri" style="top:3.9px"></span>Column shuttering</div>
<div style="top:260.5px"><span class="tri" style="top:3.9px"></span>Well shuttering</div>
<div style="top:284.8px"><span class="tri" style="top:3.9px"></span>Radial wall shuttering</div>
<div style="top:309.5px"><span class="tri" style="top:3.9px"></span>Foundation shuttering</div>
</div>

<div class="abs" id="body">
<div style="top:817.3px">Aluminium closed section 117x25mm with polymer powder coating and a bear-</div>
<div style="top:847.4px">ing capacity of the shuttering up to 60KN/sqm.</div>
<div style="top:908.7px">The panels use the universal coupler to provide the single connection part and</div>
<div style="top:939.1px">ensuring coherence, evenness and tightness of connection.</div>
<div style="top:1001.2px">In the frame,15mm birch plywood is installed featuring enhance water resis-</div>
<div style="top:1031.2px">tance and a density of the laminating film of 100 or 170g/sqm, which ensures</div>
<div style="top:1062.0px">long life of the shuttering panel and high quality of the concrete surface.</div>
<div style="top:1092.2px">The frame is coated with powder coating in the room at a temperature of</div>
<div style="top:1122.8px">300°C,which increases the shuttering life and facilitates cleaning from concrete.</div>
<div style="top:1185.0px">The basic equipment includes the panels, corner, joint plate, aligment coulper,</div>
<div style="top:1215.2px">steel waling, push-pull props, work platforms and all the necessary small parts</div>
<div style="top:1245.3px">for assembly.</div>
</div>
</body></html>
